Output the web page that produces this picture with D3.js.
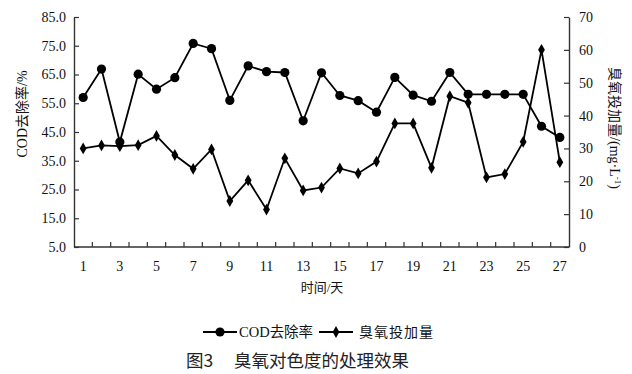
<!DOCTYPE html>
<html><head><meta charset="utf-8">
<script src="https://cdn.jsdelivr.net/npm/d3@7/dist/d3.min.js"></script>
<style>body{margin:0;background:#fff}svg{display:block}</style>
</head><body>
<svg id="c" width="632" height="374"></svg>
<script>
const days = d3.range(1, 28);
const codRemoval = [57.0,66.9,41.5,65.1,59.9,63.9,75.8,74.0,56.0,68.0,66.0,65.7,48.9,65.6,57.7,55.9,51.9,64.0,57.8,55.7,65.7,58.1,58.1,58.1,58.1,47.0,43.1];
const ozoneDose = [30.0,30.9,30.7,31.0,33.8,28.0,23.8,29.7,14.0,20.3,11.4,27.0,17.2,18.1,23.9,22.4,26.0,37.6,37.6,24.1,45.9,43.9,21.2,22.2,32.0,60.0,25.8];
const leftTicks = [5,15,25,35,45,55,65,75,85];
const rightTicks = [0,10,20,30,40,50,60,70];
const xTickLabels = [1,3,5,7,9,11,13,15,17,19,21,23,25,27];

const svg = d3.select("#c");
const L = 74, R = 569, T = 17, B = 247;
const serif = "'Liberation Serif','Times New Roman',serif";
const cjk = "'Noto Sans CJK SC',sans-serif";

const x = d3.scaleBand().domain(days).range([L, R]);
const yL = d3.scaleLinear().domain([5, 85]).range([B, T]);
const yR = d3.scaleLinear().domain([0, 70]).range([B, T]);
const cx = d => x(d) + x.bandwidth()/2;

const axL = svg.append("g").attr("transform", `translate(${L},0)`)
  .call(d3.axisLeft(yL).tickValues(leftTicks).tickSizeInner(-5).tickSizeOuter(0).tickPadding(8).tickFormat(d3.format(".1f")));
const axR = svg.append("g").attr("transform", `translate(${R},0)`)
  .call(d3.axisRight(yR).tickValues(rightTicks).tickSizeInner(-5).tickSizeOuter(0).tickPadding(10));
const axB = svg.append("g").attr("transform", `translate(0,${B})`)
  .call(d3.axisBottom(x).tickSize(0).tickFormat(d => xTickLabels.includes(d) ? d : "").tickPadding(14));
svg.append("g").selectAll("line").data(days.slice(1)).join("line")
  .attr("x1", d => x(d)).attr("x2", d => x(d)).attr("y1", B).attr("y2", B-5)
  .attr("stroke", "#333").attr("stroke-width", 1.2);

[axL, axR, axB].forEach(a => {
  a.selectAll(".domain").attr("stroke", "#333").attr("stroke-width", 1.4);
  a.selectAll(".tick line").attr("stroke", "#333").attr("stroke-width", 1.2);
  a.selectAll("text").attr("font-family", serif).attr("font-size", 14).attr("fill", "#111");
});
axB.select(".domain").attr("d", `M${L},0H${R}`);

const lineL = d3.line().x((d,i) => cx(days[i])).y(d => yL(d));
const lineR = d3.line().x((d,i) => cx(days[i])).y(d => yR(d));
svg.append("path").attr("d", lineR(ozoneDose)).attr("fill","none").attr("stroke","#000").attr("stroke-width",1.8);
svg.append("path").attr("d", lineL(codRemoval)).attr("fill","none").attr("stroke","#000").attr("stroke-width",1.8);

svg.append("g").selectAll("path").data(ozoneDose).join("path")
  .attr("d", d3.symbol().type(d3.symbolDiamond).size(40))
  .attr("transform", (d,i) => `translate(${cx(days[i])},${yR(d)})`).attr("fill","#000");
svg.append("g").selectAll("circle").data(codRemoval).join("circle")
  .attr("cx", (d,i) => cx(days[i])).attr("cy", d => yL(d)).attr("r", 4.6).attr("fill","#000");

svg.append("text").attr("transform", "translate(27,114) rotate(-90)").attr("text-anchor","middle")
  .attr("font-size", 14).attr("fill","#111")
  .html(`<tspan font-family="${serif}">COD</tspan><tspan font-family="${cjk}">去除率</tspan><tspan font-family="${serif}">/%</tspan>`);
svg.append("text").attr("transform", "translate(610,128) rotate(90)").attr("text-anchor","middle")
  .attr("font-size", 14).attr("fill","#111")
  .html(`<tspan font-family="${cjk}">臭氧投加量</tspan><tspan font-family="${serif}">/(mg·L</tspan><tspan font-family="${serif}" font-size="9" dy="-5">-1</tspan><tspan font-family="${serif}" dy="5">)</tspan>`);
svg.append("text").attr("x", 322).attr("y", 292).attr("text-anchor","middle")
  .attr("font-size", 13).attr("fill","#111")
  .html(`<tspan font-family="${cjk}">时间</tspan><tspan font-family="${serif}">/</tspan><tspan font-family="${cjk}">天</tspan>`);

const lg = svg.append("g");
lg.append("line").attr("x1",203).attr("x2",237).attr("y1",332).attr("y2",332).attr("stroke","#000").attr("stroke-width",1.8);
lg.append("circle").attr("cx",220).attr("cy",332).attr("r",4.6).attr("fill","#000");
lg.append("text").attr("x",239).attr("y",337).attr("font-size",14.5).attr("fill","#111")
  .html(`<tspan font-family="${serif}">COD</tspan><tspan font-family="${cjk}">去除率</tspan>`);
lg.append("line").attr("x1",319).attr("x2",353).attr("y1",332).attr("y2",332).attr("stroke","#000").attr("stroke-width",1.8);
lg.append("path").attr("d", d3.symbol().type(d3.symbolDiamond).size(40)).attr("transform","translate(336,332)").attr("fill","#000");
lg.append("text").attr("x",359).attr("y",337).attr("font-size",14).attr("font-family",cjk).attr("fill","#111")
  .attr("letter-spacing", 1).text("臭氧投加量");

svg.append("text").attr("x",186).attr("y",367).attr("font-size",17.5).attr("font-family",cjk).attr("fill","#222").text("图3");
svg.append("text").attr("x",234).attr("y",367).attr("font-size",17.5).attr("font-family",cjk).attr("fill","#222").text("臭氧对色度的处理效果");
</script>
</body></html>
